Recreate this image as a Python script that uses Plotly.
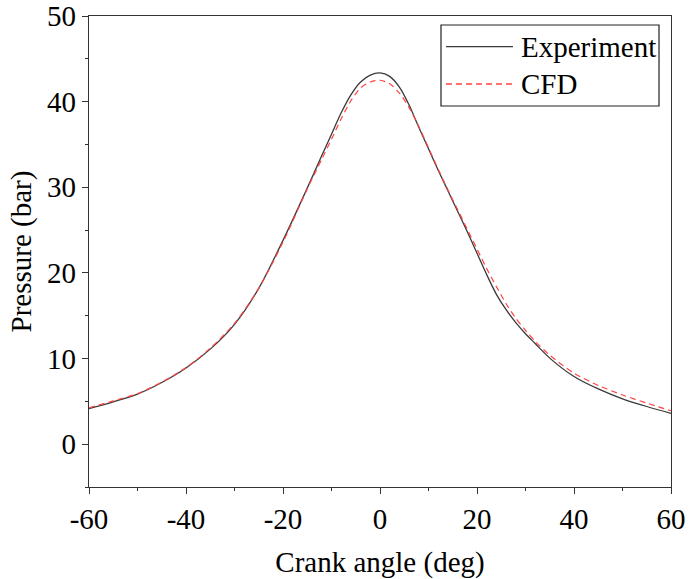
import plotly.graph_objects as go

exp_angle = [-60, -55, -50, -45, -40, -35, -30, -25, -20, -15, -12, -10, -8, -6, -4, -2, 0, 2, 4, 6, 8, 10, 12, 14, 16, 18, 20, 22, 24, 26, 28, 30, 32, 35, 40, 45, 50, 55, 60]
experiment = [4.15, 4.95, 5.85, 7.2, 8.9, 11.1, 14.0, 18.2, 23.8, 29.9, 33.7, 36.2, 38.7, 40.8, 42.3, 43.1, 43.35, 42.95, 41.7, 39.6, 37.0, 34.5, 32.0, 29.6, 27.2, 24.8, 22.3, 19.8, 17.5, 15.7, 14.2, 12.9, 11.75, 10.05, 7.9, 6.45, 5.3, 4.4, 3.6]
cfd_angle = [-60, -55, -50, -45, -40, -35, -30, -25, -20, -15, -12, -10, -8, -6, -4, -2, 0, 2, 4, 6, 8, 10, 12, 14, 16, 18, 20, 22, 24, 26, 28, 30, 32, 35, 40, 45, 50, 55, 60]
cfd = [4.25, 5.05, 5.9, 7.25, 8.95, 11.2, 14.1, 18.2, 23.6, 29.8, 33.3, 35.6, 38.0, 40.1, 41.6, 42.3, 42.5, 42.1, 41.0, 39.3, 37.1, 34.6, 32.1, 29.7, 27.4, 25.1, 22.8, 20.5, 18.4, 16.4, 14.7, 13.3, 12.0, 10.4, 8.3, 6.85, 5.75, 4.8, 3.9]
x_ticks = [-60, -40, -20, 0, 20, 40, 60]
y_ticks = [0, 10, 20, 30, 40, 50]
series_names = ["Experiment", "CFD"]

FONT = "Liberation Serif, Times New Roman, serif"
FS = 29
EXP_COLOR = "#3a3a3a"
CFD_COLOR = "#ff4444"
CFD_DASH = "6px,4px"

fig = go.Figure()
fig.add_trace(go.Scatter(x=exp_angle, y=experiment, mode="lines", name=series_names[0],
                         line=dict(color=EXP_COLOR, width=1.3, shape="spline", smoothing=0.8),
                         showlegend=False))
fig.add_trace(go.Scatter(x=cfd_angle, y=cfd, mode="lines", name=series_names[1],
                         line=dict(color=CFD_COLOR, width=1.2, dash=CFD_DASH, shape="spline", smoothing=0.8),
                         showlegend=False))

# manual legend (paper coordinates)
lx0, lx1, ly0, ly1 = 0.6048, 0.9794, 0.8089, 0.9809
fig.add_shape(type="rect", xref="paper", yref="paper", x0=lx0, x1=lx1, y0=ly0, y1=ly1,
              line=dict(color="#222", width=1.2), fillcolor="white", layer="above")
for name, yy, col, dash in [(series_names[0], 0.9348, EXP_COLOR, "solid"), (series_names[1], 0.8556, CFD_COLOR, CFD_DASH)]:
    fig.add_shape(type="line", xref="paper", yref="paper", x0=0.6134, x1=0.7285, y0=yy, y1=yy,
                  line=dict(color=col, width=1.3, dash=dash), layer="above")
    fig.add_annotation(xref="paper", yref="paper", x=0.7423, y=yy, text=name, showarrow=False,
                       xanchor="left", yanchor="middle", xshift=-2,
                       font=dict(family=FONT, size=FS, color="black"))

axis_common = dict(showline=True, linecolor="#333", linewidth=1.3, mirror=True, showgrid=False,
                   zeroline=False, ticks="outside", ticklen=6, tickwidth=1.2, tickcolor="#333",
                   automargin=False,
                   tickfont=dict(family=FONT, size=FS, color="black"))

fig.update_xaxes(range=[-60, 60], tickvals=x_ticks, ticktext=[str(v) for v in x_ticks],
                 minor=dict(dtick=10, ticks="outside", ticklen=3, tickwidth=1.2, tickcolor="#333"),
                 title=dict(text="Crank angle (deg)", font=dict(family=FONT, size=FS, color="black"), standoff=24),
                 **axis_common)
fig.update_yaxes(range=[-5, 50], tickvals=y_ticks, ticktext=[str(v) for v in y_ticks],
                 minor=dict(dtick=5, tick0=0, ticks="outside", ticklen=3, tickwidth=1.2, tickcolor="#333"),
                 title=dict(text="Pressure (bar)", font=dict(family=FONT, size=FS, color="black"), standoff=6),
                 **axis_common)

fig.update_layout(width=689, height=579, margin=dict(l=89, r=18, t=16, b=92),
                  plot_bgcolor="white", paper_bgcolor="white", showlegend=False)

fig.write_html("out.html")
